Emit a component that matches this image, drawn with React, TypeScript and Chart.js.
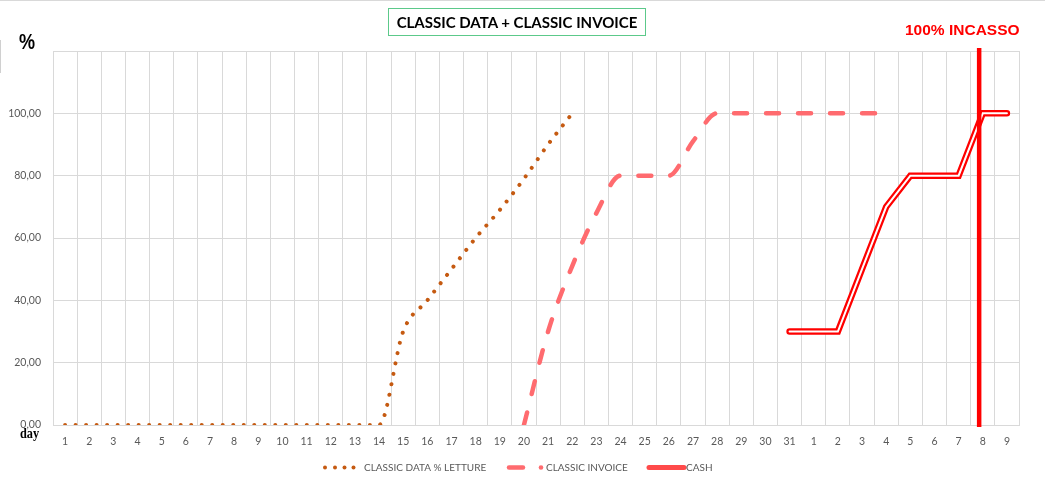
import React, { useEffect, useRef } from "react";
import { Chart, registerables } from "chart.js";

Chart.register(...registerables);

const DAYS: string[] = [
  "1", "2", "3", "4", "5", "6", "7", "8", "9", "10",
  "11", "12", "13", "14", "15", "16", "17", "18", "19", "20",
  "21", "22", "23", "24", "25", "26", "27", "28", "29", "30", "31",
  "1", "2", "3", "4", "5", "6", "7", "8", "9",
];

const CLASSIC_DATA: (number | null)[] = [
  0, 0, 0, 0, 0, 0, 0, 0, 0, 0, 0, 0, 0, 0,
  30, 40, 50, 60, 69, 79, 90, 100,
  null, null, null, null, null, null, null, null, null,
  null, null, null, null, null, null, null, null, null,
];

const CLASSIC_INVOICE: (number | null)[] = [
  null, null, null, null, null, null, null, null, null, null,
  null, null, null, null, null, null, null, null, null,
  0, 30, 51, 68, 80, 80, 80, 91,
  100, 100, 100, 100, 100, 100, 100, 100,
  null, null, null, null, null,
];

const CASH: (number | null)[] = [
  null, null, null, null, null, null, null, null, null, null,
  null, null, null, null, null, null, null, null, null, null,
  null, null, null, null, null, null, null, null, null, null,
  30, 30, 30, 50, 70, 80, 80, 80, 100, 100,
];

const Y_TICKS_MAX = 120;
const Y_STEP = 20;
const INCASSO_AT = 37.85; // category position of the "100% INCASSO" marker

const TITLE = "CLASSIC DATA + CLASSIC INVOICE";
const INCASSO_LABEL = "100% INCASSO";
const LEGEND_LABELS = ["CLASSIC DATA % LETTURE", "CLASSIC INVOICE", "CASH"];

const C_DATA = "#C55A11";
const C_INVOICE = "#FF6B6F";
const C_CASH = "#FF0000";
const GRID = "#D9D9D9";
const TICK = "#595959";
const FONT = "Lato, 'Open Sans', sans-serif";

const overlayPlugin = {
  id: "overlay",
  afterDatasetsDraw(chart: any) {
    const { ctx, chartArea, scales } = chart;
    // vertical 100% incasso marker
    const x = scales.x.getPixelForValue(INCASSO_AT);
    ctx.save();
    ctx.strokeStyle = C_CASH;
    ctx.lineWidth = 4.5;
    ctx.beginPath();
    ctx.moveTo(x, chartArea.top - 3);
    ctx.lineTo(x, chartArea.bottom + 2);
    ctx.stroke();
    ctx.restore();

    // legend
    const y = 467.5;
    ctx.save();
    ctx.font = `10px ${FONT}`;
    ctx.fillStyle = TICK;
    ctx.textBaseline = "middle";
    ctx.textAlign = "left";
    // dotted sample
    ctx.fillStyle = C_DATA;
    [325, 335, 344.5, 353.5].forEach((px) => {
      ctx.beginPath();
      ctx.arc(px, y, 2, 0, Math.PI * 2);
      ctx.fill();
    });
    ctx.fillStyle = TICK;
    ctx.fillText(LEGEND_LABELS[0], 364, y);
    // dashed sample
    ctx.strokeStyle = C_INVOICE;
    ctx.lineCap = "round";
    ctx.lineWidth = 4.5;
    ctx.beginPath();
    ctx.moveTo(509, y);
    ctx.lineTo(523, y);
    ctx.stroke();
    ctx.fillStyle = C_INVOICE;
    ctx.beginPath();
    ctx.arc(541, y, 2.3, 0, Math.PI * 2);
    ctx.fill();
    ctx.fillStyle = TICK;
    ctx.fillText(LEGEND_LABELS[1], 546, y);
    // cash sample
    ctx.strokeStyle = "#FF4A4A";
    ctx.lineWidth = 5;
    ctx.beginPath();
    ctx.moveTo(649, y);
    ctx.lineTo(684, y);
    ctx.stroke();
    ctx.fillStyle = TICK;
    ctx.fillText(LEGEND_LABELS[2], 686, y);
    ctx.restore();
  },
};

export default function App() {
  const canvasRef = useRef<HTMLCanvasElement | null>(null);

  useEffect(() => {
    if (!canvasRef.current) return;
    const chart = new Chart(canvasRef.current, {
      type: "line",
      data: {
        labels: DAYS,
        datasets: [
          {
            label: "CASH inner",
            data: CASH,
            borderColor: "#FFFFFF",
            borderWidth: 2,
            pointRadius: 0,
            borderCapStyle: "round",
            borderJoinStyle: "miter",
            tension: 0,
            order: 0,
          },
          {
            label: LEGEND_LABELS[2],
            data: CASH,
            borderColor: C_CASH,
            borderWidth: 6.5,
            pointRadius: 0,
            borderCapStyle: "round",
            borderJoinStyle: "miter",
            tension: 0,
            order: 1,
          },
          {
            label: LEGEND_LABELS[1],
            data: CLASSIC_INVOICE,
            borderColor: C_INVOICE,
            borderWidth: 4.5,
            borderDash: [13, 19],
            borderCapStyle: "round",
            pointRadius: 0,
            cubicInterpolationMode: "monotone",
            order: 2,
          },
          {
            label: LEGEND_LABELS[0],
            data: CLASSIC_DATA,
            borderColor: C_DATA,
            borderWidth: 4,
            borderDash: [0.01, 10.5],
            borderCapStyle: "round",
            pointRadius: 0,
            cubicInterpolationMode: "monotone",
            order: 3,
          },
        ],
      },
      options: {
        animation: false,
        responsive: false,
        devicePixelRatio: 1,
        layout: { padding: { left: 0, top: 51, right: 26, bottom: 27 } },
        plugins: {
          legend: { display: false },
          tooltip: { enabled: false },
          title: { display: false },
        },
        scales: {
          x: {
            type: "category",
            offset: true,
            grid: {
              offset: true,
              color: GRID,
              lineWidth: 1,
              drawTicks: false,
            },
            border: { color: GRID, width: 1 },
            ticks: {
              color: TICK,
              font: { family: FONT, size: 10.5 },
              padding: 10,
              autoSkip: false,
              maxRotation: 0,
            },
            afterFit: (s: any) => {
              s.height = 30;
            },
          },
          y: {
            min: 0,
            max: Y_TICKS_MAX,
            grid: { color: GRID, lineWidth: 1, drawTicks: false },
            border: { color: GRID, width: 1 },
            ticks: {
              stepSize: Y_STEP,
              color: TICK,
              font: { family: FONT, size: 10.5 },
              padding: 12,
              callback: (v: any) =>
                Number(v) === Y_TICKS_MAX ? "" : Number(v).toFixed(2).replace(".", ","),
            },
            afterFit: (s: any) => {
              s.width = 53;
            },
          },
        },
      },
      plugins: [overlayPlugin],
    } as any);
    return () => chart.destroy();
  }, []);

  return (
    <div
      style={{
        position: "fixed",
        left: 0,
        top: 0,
        width: 1045,
        height: 482,
        background: "#FFFFFF",
        overflow: "hidden",
      }}
    >
      <canvas
        ref={canvasRef}
        width={1045}
        height={482}
        style={{ position: "absolute", left: 0, top: 0, width: 1045, height: 482 }}
      />
      <div style={{ position: "absolute", left: 0, top: 0, width: 1045, height: 1, background: "#D9D9D9" }} />
      <div style={{ position: "absolute", left: 0, top: 40, width: 1, height: 33, background: "#D0D0D0" }} />
      <div
        style={{
          position: "absolute",
          left: 388,
          top: 8,
          width: 256,
          height: 26,
          border: "1px solid #5CC98A",
          fontFamily: FONT,
          fontWeight: 700,
          fontSize: 15,
          color: "#000",
          lineHeight: "26px",
          textAlign: "center",
          whiteSpace: "nowrap",
        }}
      >
        {TITLE}
      </div>
      <div
        style={{
          position: "absolute",
          left: 905,
          top: 20,
          width: 116,
          fontFamily: "'Liberation Sans', Arial, sans-serif",
          fontWeight: 700,
          fontSize: 15.5,
          color: "#FF0000",
          lineHeight: "20px",
          whiteSpace: "nowrap",
        }}
      >
        {INCASSO_LABEL}
      </div>
      <div
        style={{
          position: "absolute",
          left: 19,
          top: 29,
          fontFamily: "'Liberation Sans', Arial, sans-serif",
          fontWeight: 700,
          fontSize: 22,
          color: "#000",
          lineHeight: "26px",
          transform: "scaleX(0.82)",
          transformOrigin: "left top",
        }}
      >
        %
      </div>
      <div
        style={{
          position: "absolute",
          left: 20,
          top: 426,
          fontFamily: "'Liberation Serif', 'Times New Roman', serif",
          fontWeight: 700,
          fontSize: 14,
          color: "#000",
          lineHeight: "16px",
          transform: "scaleX(0.88)",
          transformOrigin: "left top",
        }}
      >
        day
      </div>
    </div>
  );
}
